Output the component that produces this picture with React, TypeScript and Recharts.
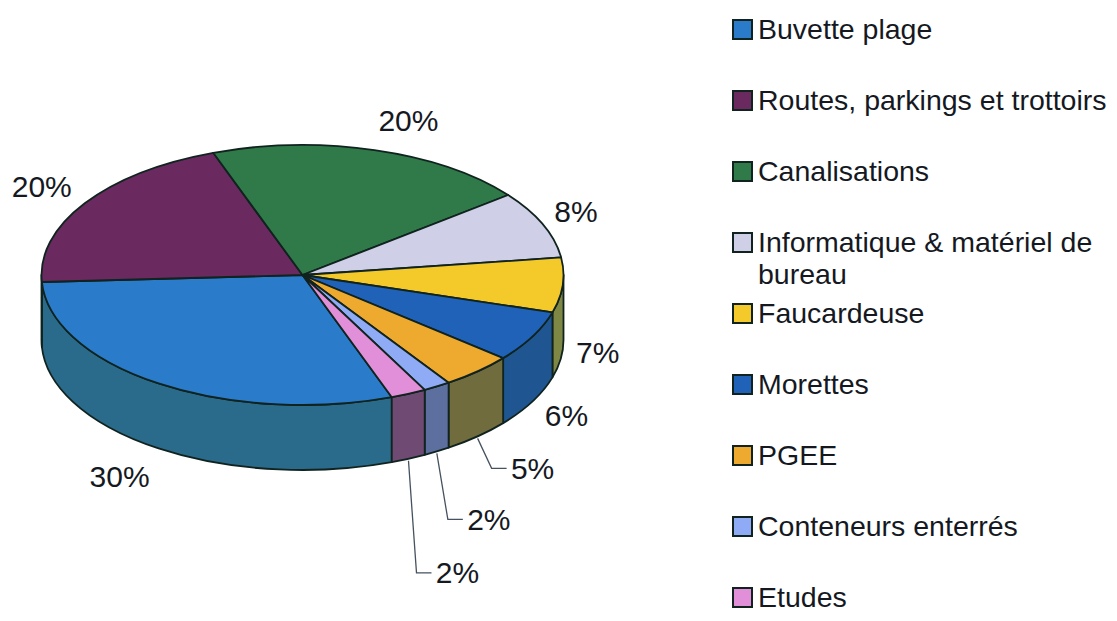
import React from 'react';
import { PieChart, Pie, Legend } from 'recharts';

const categories = [
  'Buvette plage',
  'Routes, parkings et trottoirs',
  'Canalisations',
  'Informatique & matériel de bureau',
  'Faucardeuse',
  'Morettes',
  'PGEE',
  'Conteneurs enterrés',
  'Etudes',
];
// the labels show these rounded
const shares = [29.7, 20.3, 20, 8.4, 6.8, 6.4, 4.5, 1.7, 2.2];

const topColors = ['#2a7ccb', '#6a2a60', '#2f7a48', '#cfcfe8', '#f4c92a', '#1f62b8', '#eea92f', '#8fabf5', '#e08fd8'];
const wallColors = ['#2a6a8a', '#5a3560', '#25603a', '#9a9ab0', '#7f8745', '#1f5590', '#716c3e', '#5c6f9e', '#6f4a72'];

// label offset from the rim of the pie, per slice
const labelDx = [-39, -43, 34, 33, 35, 34, 55, 52, 49];
const labelDy = [28, -17, -30, -13, 2, 14, 32, 68, 114];
// slices whose label hangs on a leader line
const leaderSlices = [6, 7, 8];

const table = categories.map((name, i) => ({ name, value: shares[i], fill: topColors[i] }));
const wallTable = categories.map((name, i) => ({ name, value: shares[i], fill: wallColors[i] }));

const SQUASH = 130 / 261;
const DEPTH = 65;
const INK = '#10231f';
const FONT = '"Liberation Sans", Arial, sans-serif';

const rad = (a: number) => (a * Math.PI) / 180;

const rim = (cx: number, cy: number, r: number, a: number) => ({
  x: cx + r * Math.cos(rad(a)),
  y: cy - r * SQUASH * Math.sin(rad(a)),
});

const TopSlice = (p: any) => {
  const s = rim(p.cx, p.cy, p.outerRadius, p.startAngle);
  const e = rim(p.cx, p.cy, p.outerRadius, p.endAngle);
  const large = Math.abs(p.startAngle - p.endAngle) > 180 ? 1 : 0;
  const ry = p.outerRadius * SQUASH;
  const d = `M${p.cx},${p.cy} L${s.x},${s.y} A${p.outerRadius},${ry} 0 ${large} 1 ${e.x},${e.y} Z`;
  return <path d={d} fill={p.fill} stroke={INK} strokeWidth={1.8} strokeLinejoin="round" />;
};

const WallSlice = (p: any) => {
  const ry = p.outerRadius * SQUASH;
  // only the front half of the rim shows a wall
  const parts = [[180, 360], [-180, 0]]
    .map(([a, b]) => [Math.max(p.endAngle, a), Math.min(p.startAngle, b)])
    .filter(([lo, hi]) => hi > lo);
  return (
    <g>
      {parts.map(([lo, hi], i) => {
        const s = rim(p.cx, p.cy, p.outerRadius, hi);
        const e = rim(p.cx, p.cy, p.outerRadius, lo);
        const d =
          `M${s.x},${s.y} A${p.outerRadius},${ry} 0 0 1 ${e.x},${e.y} L${e.x},${e.y + DEPTH} ` +
          `A${p.outerRadius},${ry} 0 0 0 ${s.x},${s.y + DEPTH} Z`;
        return <path key={i} d={d} fill={p.fill} stroke={INK} strokeWidth={1.8} strokeLinejoin="round" />;
      })}
    </g>
  );
};

const SliceLabel = (p: any) => {
  const i = p.index;
  const base = rim(p.cx, p.cy, p.outerRadius, p.midAngle);
  const front = Math.sin(rad(p.midAngle)) < 0;
  const x0 = base.x;
  const y0 = base.y + (front ? DEPTH : 0);
  const x = x0 + labelDx[i];
  const y = y0 + labelDy[i];
  return (
    <g>
      {leaderSlices.includes(i) && (
        <polyline
          points={`${x0},${y0 + 2} ${x - 41},${y} ${x - 26},${y}`}
          fill="none"
          stroke="#46525e"
          strokeWidth={1.3}
        />
      )}
      <text x={x} y={y} textAnchor="middle" dominantBaseline="central" fontFamily={FONT} fontSize={30} fill="#15191f">
        {Math.round(shares[i])}%
      </text>
    </g>
  );
};

const LegendList = (props: any) => (
  <div style={{ fontFamily: FONT, fontSize: 28.5, lineHeight: '32px', color: '#15191f' }}>
    {props.payload
      .filter((item: any) => item.type !== 'none')
      .map((item: any) => (
        <div key={item.value} style={{ height: 71, display: 'flex', alignItems: 'flex-start' }}>
          <span
            style={{
              flex: 'none',
              width: 17,
              height: 17,
              marginTop: 6,
              marginRight: 5,
              background: item.color,
              border: `2px solid ${INK}`,
            }}
          />
          <span>{item.value}</span>
        </div>
      ))}
  </div>
);

export default function App() {
  return (
    <div style={{ position: 'absolute', left: 0, top: 0, width: 1117, height: 621, overflow: 'hidden' }}>
      <PieChart width={1117} height={621} margin={{ top: 0, right: 0, bottom: 0, left: 0 }}>
        <Pie
          data={wallTable}
          dataKey="value"
          nameKey="name"
          cx={302.5}
          cy={275}
          outerRadius={261}
          startAngle={290}
          endAngle={-70}
          legendType="none"
          shape={WallSlice}
          isAnimationActive={false}
        />
        <Pie
          data={table}
          dataKey="value"
          nameKey="name"
          cx={302.5}
          cy={275}
          outerRadius={261}
          startAngle={290}
          endAngle={-70}
          shape={TopSlice}
          label={SliceLabel}
          labelLine={false}
          isAnimationActive={false}
        />
        <Legend
          layout="vertical"
          align="right"
          verticalAlign="top"
          itemSorter={null}
          content={LegendList}
          wrapperStyle={{ left: 732, top: 13, width: 385, right: 'auto', bottom: 'auto' }}
        />
      </PieChart>
    </div>
  );
}
